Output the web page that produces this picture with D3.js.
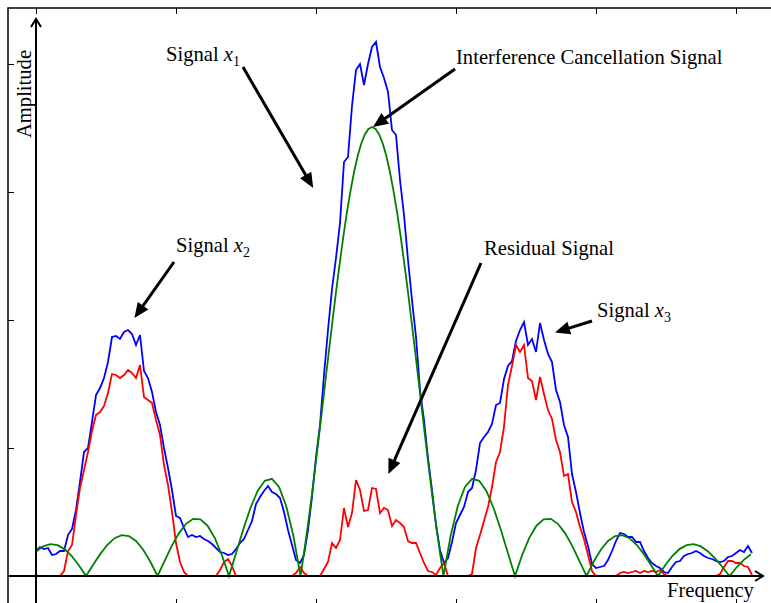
<!DOCTYPE html>
<html>
<head>
<meta charset="utf-8">
<script src="https://cdn.jsdelivr.net/npm/d3@7"></script>
<style>
  body { margin: 0; background: #fff; }
  svg { display: block; }
  text { font-family: "Liberation Serif", "Times New Roman", serif; font-size: 20.6px; fill: #000; }
</style>
</head>
<body>
<script>
// frequency bins 0..179, amplitude in arbitrary units (tick every 128)
const xTicks = [0, 35, 70, 105, 140, 175];
const yTicks = [0, 128, 256, 384, 512];

// received spectrum (x1 + x2 + x3)
const blue = [
  25, 29, 27, 28, 21, 22, 25, 25, 41, 47,
  66, 94, 124, 128, 154, 181, 188, 198, 214, 239,
  240, 237, 244, 246, 242, 231, 241, 205, 198, 184,
  164, 151, 128, 108, 86, 60, 58, 48, 39, 41,
  39, 40, 37, 35, 32, 28, 24, 23, 21, 22,
  27, 33, 37, 46, 55, 72, 79, 85, 90, 84,
  82, 78, 64, 46, 31, 16, 13, 21, 46, 79,
  119, 151, 201, 246, 287, 318, 353, 414, 419, 470,
  506, 512, 491, 512, 529, 534, 509, 498, 484, 446,
  441, 396, 361, 316, 276, 239, 186, 156, 118, 86,
  51, 26, 13, 18, 34, 53, 61, 69, 84, 88,
  106, 133, 139, 144, 152, 171, 173, 197, 210, 215,
  235, 246, 254, 231, 237, 224, 253, 236, 222, 214,
  186, 174, 151, 139, 102, 84, 63, 44, 30, 12,
  8, 9, 10, 16, 25, 35, 43, 42, 39, 39,
  34, 34, 25, 18, 13, 10, 8, 4, 3, 9,
  14, 15, 20, 22, 23, 25, 23, 20, 18, 17,
  15, 14, 15, 19, 20, 23, 26, 24, 30, 23
];

// residual after cancellation
const red = [
  1, 0, 0, 0, 0, 0, 0, 5, 25, 31,
  61, 88, 106, 124, 145, 161, 164, 170, 183, 202,
  201, 198, 201, 206, 203, 198, 211, 179, 176, 173,
  156, 141, 111, 91, 64, 33, 14, 4, 0, 0,
  0, 0, 0, 0, 0, 0, 6, 14, 17, 10,
  0, 0, 0, 0, 0, 0, 0, 0, 0, 0,
  0, 0, 0, 0, 0, 3, 9, 3, 0, 0,
  0, 0, 7, 14, 33, 28, 36, 68, 49, 63,
  96, 86, 65, 66, 88, 87, 63, 68, 66, 50,
  56, 53, 49, 35, 33, 33, 23, 13, 5, 4,
  1, 8, 13, 0, 0, 0, 0, 0, 0, 2,
  28, 41, 55, 69, 89, 114, 124, 149, 191, 210,
  231, 224, 231, 198, 195, 176, 199, 182, 166, 157,
  136, 124, 100, 102, 74, 64, 49, 37, 21, 5,
  0, 0, 0, 0, 0, 0, 3, 4, 3, 4,
  5, 3, 5, 4, 5, 4, 6, 2, 0, 0,
  0, 0, 0, 0, 0, 0, 0, 0, 0, 0,
  0, 2, 9, 15, 15, 13, 13, 10, 9, 1
];

// interference cancellation signal
const greenX = [
  0, 1.78, 3.56, 5.35, 7.14, 8.93, 10.71, 12.5, 14.29, 16.08,
  17.86, 19.65, 21.44, 23.23, 25.01, 26.8, 28.59, 30.38, 32.16, 33.95,
  35.74, 37.53, 39.31, 41.1, 42.89, 44.68, 46.46, 48.25, 50.04, 51.83,
  53.61, 55.4, 57.19, 58.98, 60.76, 62.55, 64.34, 66.13,
  67.02, 67.91, 68.81, 69.7, 70.59, 71.49, 72.38, 73.28, 74.17, 75.06,
  75.96, 76.85, 77.74, 78.64, 79.53, 80.43, 81.32, 82.21, 83.11, 84,
  84.89, 85.79, 86.68, 87.58, 88.47, 89.36, 90.26, 91.15, 92.04, 92.94,
  93.83, 94.72, 95.62, 96.51, 97.41, 98.3, 99.19, 100.09, 100.98,
  101.87, 103.66, 105.45, 107.24, 109.02, 110.81, 112.6, 114.39, 116.17, 117.96,
  119.75, 121.54, 123.32, 125.11, 126.9, 128.69, 130.47, 132.26, 134.05, 135.84,
  137.63, 139.41, 141.2, 142.99, 144.78, 146.56, 148.35, 150.14, 151.93, 153.71,
  155.5, 157.29, 159.08, 160.86, 162.65, 164.44, 166.23, 168.01, 169.8, 171.59,
  173.38, 175.16, 176.95, 178.74
];
const greenY = [
  24.6, 29.6, 31.8, 30.8, 26.9, 20.0, 10.8, 0, 11.3, 22.1,
  31.2, 37.8, 40.8, 39.9, 35.1, 26.2, 14.2, 0, 15.2, 30.1,
  42.9, 52.2, 57.2, 56.6, 50.3, 38.1, 21.0, 0, 23.3, 46.7,
  68.0, 85.0, 95.2, 97.2, 89.0, 70.0, 40.2, 0,
  23.6, 49.0, 76.3, 105.1, 134.8, 165.1, 196.0, 226.6, 256.6, 285.8,
  313.7, 339.8, 363.9, 385.4, 404.2, 420.2, 432.5, 441.6, 447.0, 449,
  447.0, 441.6, 432.5, 420.2, 404.2, 385.4, 363.9, 339.8, 313.7, 285.8,
  256.6, 226.6, 196.0, 165.1, 134.8, 105.1, 76.3, 49.0, 23.6,
  0, 40.2, 70.0, 89.0, 97.2, 95.2, 85.0, 68.0, 46.7, 23.3,
  0, 21.0, 38.1, 50.3, 56.6, 57.2, 52.2, 42.9, 30.1, 15.2,
  0, 14.2, 26.2, 35.1, 39.9, 40.8, 37.8, 31.2, 22.1, 11.3,
  0, 10.8, 20.0, 26.9, 30.8, 31.8, 29.6, 24.6, 17.5, 9.0,
  0, 8.7, 16.1, 21.8
];

// annotation labels (anchor in data units) and arrows [from, to]
const labels = [
  { name: "Signal ", sub: "1", at: [32.5, 515] },
  { name: "Interference Cancellation Signal", at: [105, 512] },
  { name: "Signal ", sub: "2", at: [35, 324] },
  { name: "Residual Signal", at: [112, 321] },
  { name: "Signal ", sub: "3", at: [140.25, 259] }
];
const arrows = [
  [[51.75, 509], [69.3, 388]],
  [[104.75, 507], [84.25, 449]],
  [[34.5, 314], [24.6, 258]],
  [[111.25, 313], [88.1, 102]],
  [[139, 255], [129.75, 243.5]]
];

const W = 771, H = 603;
const svg = d3.select("body").append("svg").attr("width", W).attr("height", H);
svg.append("rect").attr("width", W).attr("height", H).attr("fill", "#fff");

const x = d3.scaleLinear().domain([0, 179]).range([36, 752]);
const y = d3.scaleLinear().domain([0, 512]).range([576, 64]);

// outer frame with inward ticks
const frameL = x(-7), frameR = x(185.5), frameT = y(568), frameB = y(-29);
svg.append("rect")
  .attr("x", frameL).attr("y", frameT)
  .attr("width", frameR - frameL).attr("height", frameB - frameT)
  .attr("fill", "none").attr("stroke", "#000").attr("stroke-width", 1.5);

function ticksOnly(g) {
  g.select(".domain").remove();
  g.selectAll(".tick line").attr("stroke", "#000").attr("stroke-width", 1);
}
svg.append("g").attr("transform", `translate(0,${frameT})`)
  .call(d3.axisBottom(x).tickValues(xTicks).tickSize(6).tickFormat("")).call(ticksOnly);
svg.append("g").attr("transform", `translate(0,${frameB})`)
  .call(d3.axisTop(x).tickValues(xTicks).tickSize(6).tickFormat("")).call(ticksOnly);
svg.append("g").attr("transform", `translate(${frameL},0)`)
  .call(d3.axisRight(y).tickValues(yTicks).tickSize(6).tickFormat("")).call(ticksOnly);
svg.append("g").attr("transform", `translate(${frameR},0)`)
  .call(d3.axisLeft(y).tickValues(yTicks).tickSize(6).tickFormat("")).call(ticksOnly);

// curves
const line = d3.line().x(d => x(d[0])).y(d => y(d[1]));
svg.append("path").datum(blue.map((v, i) => [i, v]))
  .attr("d", line).attr("fill", "none").attr("stroke", "#0000ff").attr("stroke-width", 1.8);
svg.append("path").datum(red.map((v, i) => [i, v]))
  .attr("d", line).attr("fill", "none").attr("stroke", "#ff0000").attr("stroke-width", 1.8);
svg.append("path").datum(greenX.map((v, i) => [v, greenY[i]]))
  .attr("d", line).attr("fill", "none").attr("stroke", "#008000").attr("stroke-width", 1.8);

// arrowed axes
const ax = svg.append("g").attr("stroke", "#000").attr("stroke-width", 2).attr("fill", "none");
const xEnd = x(181.75), yEnd = y(557);
ax.append("line").attr("x1", frameL).attr("x2", xEnd).attr("y1", y(0)).attr("y2", y(0));
ax.append("line").attr("x1", x(0)).attr("x2", x(0)).attr("y1", frameB).attr("y2", yEnd);
ax.append("path").attr("d", `M${xEnd - 8},${y(0) - 5}L${xEnd},${y(0)}L${xEnd - 8},${y(0) + 5}`);
ax.append("path").attr("d", `M${x(0) - 5},${yEnd + 8}L${x(0)},${yEnd}L${x(0) + 5},${yEnd + 8}`);

svg.append("text")
  .attr("transform", `translate(${x(-1.25)},${y(482)}) rotate(-90)`)
  .attr("text-anchor", "middle").text("Amplitude");
svg.append("text").attr("x", x(157.75)).attr("y", y(-21)).text("Frequency");

// annotations
labels.forEach(l => {
  const t = svg.append("text").attr("x", x(l.at[0])).attr("y", y(l.at[1]));
  t.append("tspan").text(l.name);
  if (l.sub) {
    t.append("tspan").attr("font-style", "italic").text("x");
    t.append("tspan").attr("dy", 5).attr("font-size", 14).text(l.sub);
  }
});

arrows.forEach(([a, b]) => {
  const x1 = x(a[0]), y1 = y(a[1]), x2 = x(b[0]), y2 = y(b[1]);
  const len = Math.hypot(x2 - x1, y2 - y1);
  const ux = (x2 - x1) / len, uy = (y2 - y1) / len;
  const hl = 15, hw = 6.5;
  const bx = x2 - ux * hl, by = y2 - uy * hl;
  svg.append("line").attr("x1", x1).attr("y1", y1).attr("x2", bx + ux * 2).attr("y2", by + uy * 2)
    .attr("stroke", "#000").attr("stroke-width", 3);
  svg.append("path")
    .attr("d", `M${x2},${y2}L${bx - uy * hw},${by + ux * hw}L${bx + uy * hw},${by - ux * hw}Z`)
    .attr("fill", "#000");
});
</script>
</body>
</html>
